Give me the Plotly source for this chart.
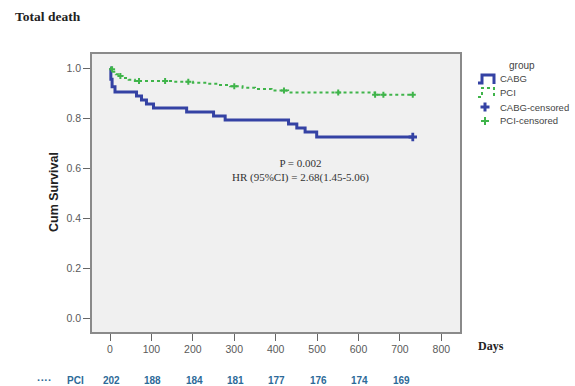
import plotly.graph_objects as go
import numpy as np

# CABG Kaplan-Meier steps
cabg_days = [0, 2, 5, 12, 64, 76, 88, 105, 185, 250, 278, 431, 451, 471, 499, 731]
cabg_surv = [1.0, 0.955, 0.925, 0.904, 0.888, 0.872, 0.856, 0.840, 0.824, 0.808, 0.792, 0.776, 0.760, 0.744, 0.724, 0.724]
cabg_cens_days = [731]

# PCI Kaplan-Meier steps
pci_days = [0, 4, 8, 14, 20, 30, 45, 60, 150, 200, 230, 260, 290, 320, 350, 390, 430, 640, 731]
pci_surv = [1.0, 0.995, 0.985, 0.975, 0.968, 0.960, 0.953, 0.948, 0.945, 0.941, 0.937, 0.932, 0.927,
            0.921, 0.916, 0.910, 0.902, 0.893, 0.893]
pci_cens_days = [5, 25, 70, 133, 189, 300, 420, 551, 640, 660, 731]

# at-risk table
risk_days = [0, 100, 200, 300, 400, 500, 600, 700]
pci_at_risk = [202, 188, 184, 181, 177, 176, 174, 169]

x_ticks = [0, 100, 200, 300, 400, 500, 600, 700, 800]
y_ticks = [0.0, 0.2, 0.4, 0.6, 0.8, 1.0]

legend_title = "group"
legend_labels = ["CABG", "PCI", "CABG-censored", "PCI-censored"]

BLUE = "#3442a4"
GREEN = "#3fb44a"
RISK = "#2d6a98"
SANS = "Arial, Liberation Sans, sans-serif"
SERIF = "Liberation Serif, Times New Roman, serif"

W, H = 575, 386
ML, MR, MT, MB = 92, 115, 54, 54
PW, PH = W - ML - MR, H - MT - MB


def px(x):
    return (x - ML) / PW


def py(y):
    return (H - MB - y) / PH


def step_at(days, surv, t):
    idx = np.searchsorted(np.array(days), t, side="right") - 1
    return surv[max(idx, 0)]


fig = go.Figure()
fig.add_trace(go.Scatter(x=cabg_days, y=cabg_surv, mode="lines", line_shape="hv",
                         line=dict(color=BLUE, width=3), name=legend_labels[0]))
fig.add_trace(go.Scatter(x=pci_days, y=pci_surv, mode="lines", line_shape="hv",
                         line=dict(color=GREEN, width=2, dash="dot"), name=legend_labels[1]))
fig.add_trace(go.Scatter(x=cabg_cens_days, y=[step_at(cabg_days, cabg_surv, t) for t in cabg_cens_days],
                         mode="markers", marker=dict(symbol="cross", size=7, color=BLUE),
                         name=legend_labels[2]))
fig.add_trace(go.Scatter(x=pci_cens_days, y=[step_at(pci_days, pci_surv, t) for t in pci_cens_days],
                         mode="markers", marker=dict(symbol="cross", size=5, color=GREEN),
                         name=legend_labels[3]))

axis_common = dict(showline=True, linecolor="#8a8a8a", linewidth=1.5, mirror=True,
                   showgrid=False, zeroline=False, ticks="outside", tickcolor="#666",
                   tickwidth=1.3, ticklen=7, automargin=False,
                   tickfont=dict(family=SANS, size=10.5, color="#5a5a5a"))

fig.update_layout(
    width=W, height=H,
    margin=dict(l=ML, r=MR, t=MT, b=MB, autoexpand=False),
    paper_bgcolor="white", plot_bgcolor="#f0f0f0",
    showlegend=False,
    xaxis=dict(range=[-43.5, 845], tickvals=x_ticks, **axis_common),
    yaxis=dict(range=[-0.056, 1.056], tickvals=y_ticks, tickformat=".1f", **axis_common),
)

# y-axis title
fig.add_annotation(text="<b>Cum Survival</b>", xref="paper", yref="paper", x=px(54), y=py(192),
                   textangle=-90, showarrow=False, xanchor="center", yanchor="middle",
                   font=dict(family=SANS, size=12.5, color="#222"))
# chart title
fig.add_annotation(text="<b>Total death</b>", xref="paper", yref="paper",
                   x=px(13), y=py(17), xanchor="left", yanchor="middle", showarrow=False,
                   font=dict(family=SERIF, size=13.5, color="#222"))
# Days label
fig.add_annotation(text="<b>Days</b>", xref="paper", yref="paper",
                   x=px(476), y=py(346), xanchor="left", yanchor="middle", showarrow=False,
                   font=dict(family=SERIF, size=12, color="#222"))
# stats
fig.add_annotation(text="P = 0.002<br>HR (95%CI) = 2.68(1.45-5.06)", xref="paper", yref="paper",
                   x=px(300), y=py(170.5), xanchor="center", yanchor="middle", showarrow=False,
                   align="center", font=dict(family=SERIF, size=11, color="#333"))

# manual legend
fig.add_annotation(text=legend_title, xref="paper", yref="paper", x=px(522), y=py(65),
                   xanchor="center", yanchor="middle", showarrow=False,
                   font=dict(family=SANS, size=10, color="#444"))
for lab, yy in zip(legend_labels, [78, 92, 107, 121]):
    fig.add_annotation(text=lab, xref="paper", yref="paper", x=px(498), y=py(yy),
                       xanchor="left", yanchor="middle", showarrow=False,
                       font=dict(family=SANS, size=9.5, color="#444"))


def leg_path(pts):
    return "M " + " L ".join(f"{px(a):.4f},{py(b):.4f}" for a, b in pts)


fig.add_shape(type="path", xref="paper", yref="paper",
              path=leg_path([(478, 83), (482, 83), (482, 75), (494, 75), (494, 84)]),
              line=dict(color=BLUE, width=3))
fig.add_shape(type="path", xref="paper", yref="paper",
              path=leg_path([(478, 97), (482, 97), (482, 88), (494, 88), (494, 97)]),
              line=dict(color=GREEN, width=2, dash="dot"))
# plus symbols
for (cx, cy), col, lw, arm in [((485, 107), BLUE, 3, 4.5), ((485, 121), GREEN, 2, 4)]:
    fig.add_shape(type="line", xref="paper", yref="paper",
                  x0=px(cx - arm), x1=px(cx + arm), y0=py(cy), y1=py(cy), line=dict(color=col, width=lw))
    fig.add_shape(type="line", xref="paper", yref="paper",
                  x0=px(cx), x1=px(cx), y0=py(cy - arm), y1=py(cy + arm), line=dict(color=col, width=lw))

# at-risk row
fig.add_annotation(text="<b>····</b>", xref="paper", yref="paper", x=px(35), y=py(380),
                   xanchor="left", yanchor="middle", showarrow=False,
                   font=dict(family=SANS, size=11, color=RISK))
fig.add_annotation(text="<b>PCI</b>", xref="paper", yref="paper", x=px(65), y=py(380),
                   xanchor="left", yanchor="middle", showarrow=False,
                   font=dict(family=SANS, size=10, color=RISK))
for d, n in zip(risk_days, pci_at_risk):
    fig.add_annotation(text=f"<b>{n}</b>", xref="x", yref="paper", x=d + 3, y=py(380),
                       xanchor="center", yanchor="middle", showarrow=False,
                       font=dict(family=SANS, size=10, color=RISK))

fig.write_html("out.html", config={"displayModeBar": False},
               post_script="document.body.style.margin='0';")
